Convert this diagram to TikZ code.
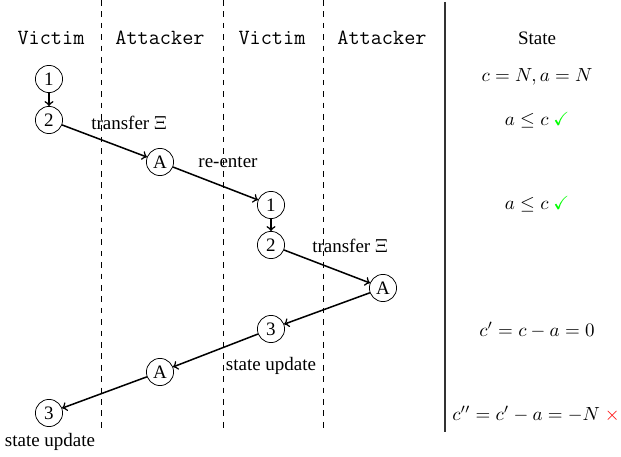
\documentclass[tikz,border=0pt]{standalone}
\usepackage[no-math]{fontspec}
\setmainfont{Liberation Serif}
\usepackage{amssymb}
\usetikzlibrary{positioning}

\begin{document}
\begin{tikzpicture}[x=0.5263pt,y=-0.5263pt,->,>=to,thick,main node/.style={circle,draw,thin,minimum size=14.3pt,inner sep=0pt},lane/.style={font=\fontsize{11.4pt}{13pt}\selectfont\ttfamily},sep line/.style={-,thin,dashed}]
            \useasboundingbox (0,0) rectangle (621,457);

            % lanes
            \draw[sep line] (101.5,0) -- (101.5,433);
            \draw[sep line] (223.5,0) -- (223.5,433);
            \draw[sep line] (323.5,0) -- (323.5,433);
            \draw[-,line width=1pt,black!80] (445,2) -- (445,432);

            \node[lane] (v1) at (51,38) {Victim};
            \node[lane] (a1) at (160,38) {Attacker};
            \node[lane] (v2) at (272,38) {Victim};
            \node[lane] (a2) at (382,38) {Attacker};
            \node[] (st) at (537,38) {State};

            % calls
            \node[main node] (1) at (49,79) {1};
            \node[main node] (2) at (49,120) {2};
            \node[main node] (3) at (160,162) {A};
            \node[main node] (4) at (271,205) {1};
            \node[main node] (5) at (271,245) {2};
            \node[main node] (6) at (383,288) {A};
            \node[main node] (7) at (271,329) {3};
            \node[main node] (8) at (160,372) {A};
            \node[main node] (9) at (49,413) {3};

            \node[] (10) at (129,123) {transfer $\Xi$};
            \node[] (11) at (228,162) {re-enter};
            \node[] (12) at (350,246) {transfer $\Xi$};
            \node[] (13) at (271,366) {state update};
            \node[] (14) at (50,442) {state update};

            \path
                (1) edge (2)
                (2) edge (3)
                (3) edge (4)
                (4) edge (5)
                (5) edge (6)
                (6) edge (7)
                (7) edge (8)
                (8) edge (9)
                ;

            % state
            \node[] (s1) at (537,77) {$c = N, a = N$};
            \node[] (s2) at (537,120) {$a \leq c$ \textcolor{green}{$\checkmark$}};
            \node[] (s3) at (537,204) {$a \leq c$ \textcolor{green}{$\checkmark$}};
            \node[] (s4) at (537,330) {$c' = c - a = 0$};
            \node[] (s5) at (536,414) {$c'' = c' - a = -N$ \textcolor{red}{$\times$}};
        \end{tikzpicture}
\end{document}
